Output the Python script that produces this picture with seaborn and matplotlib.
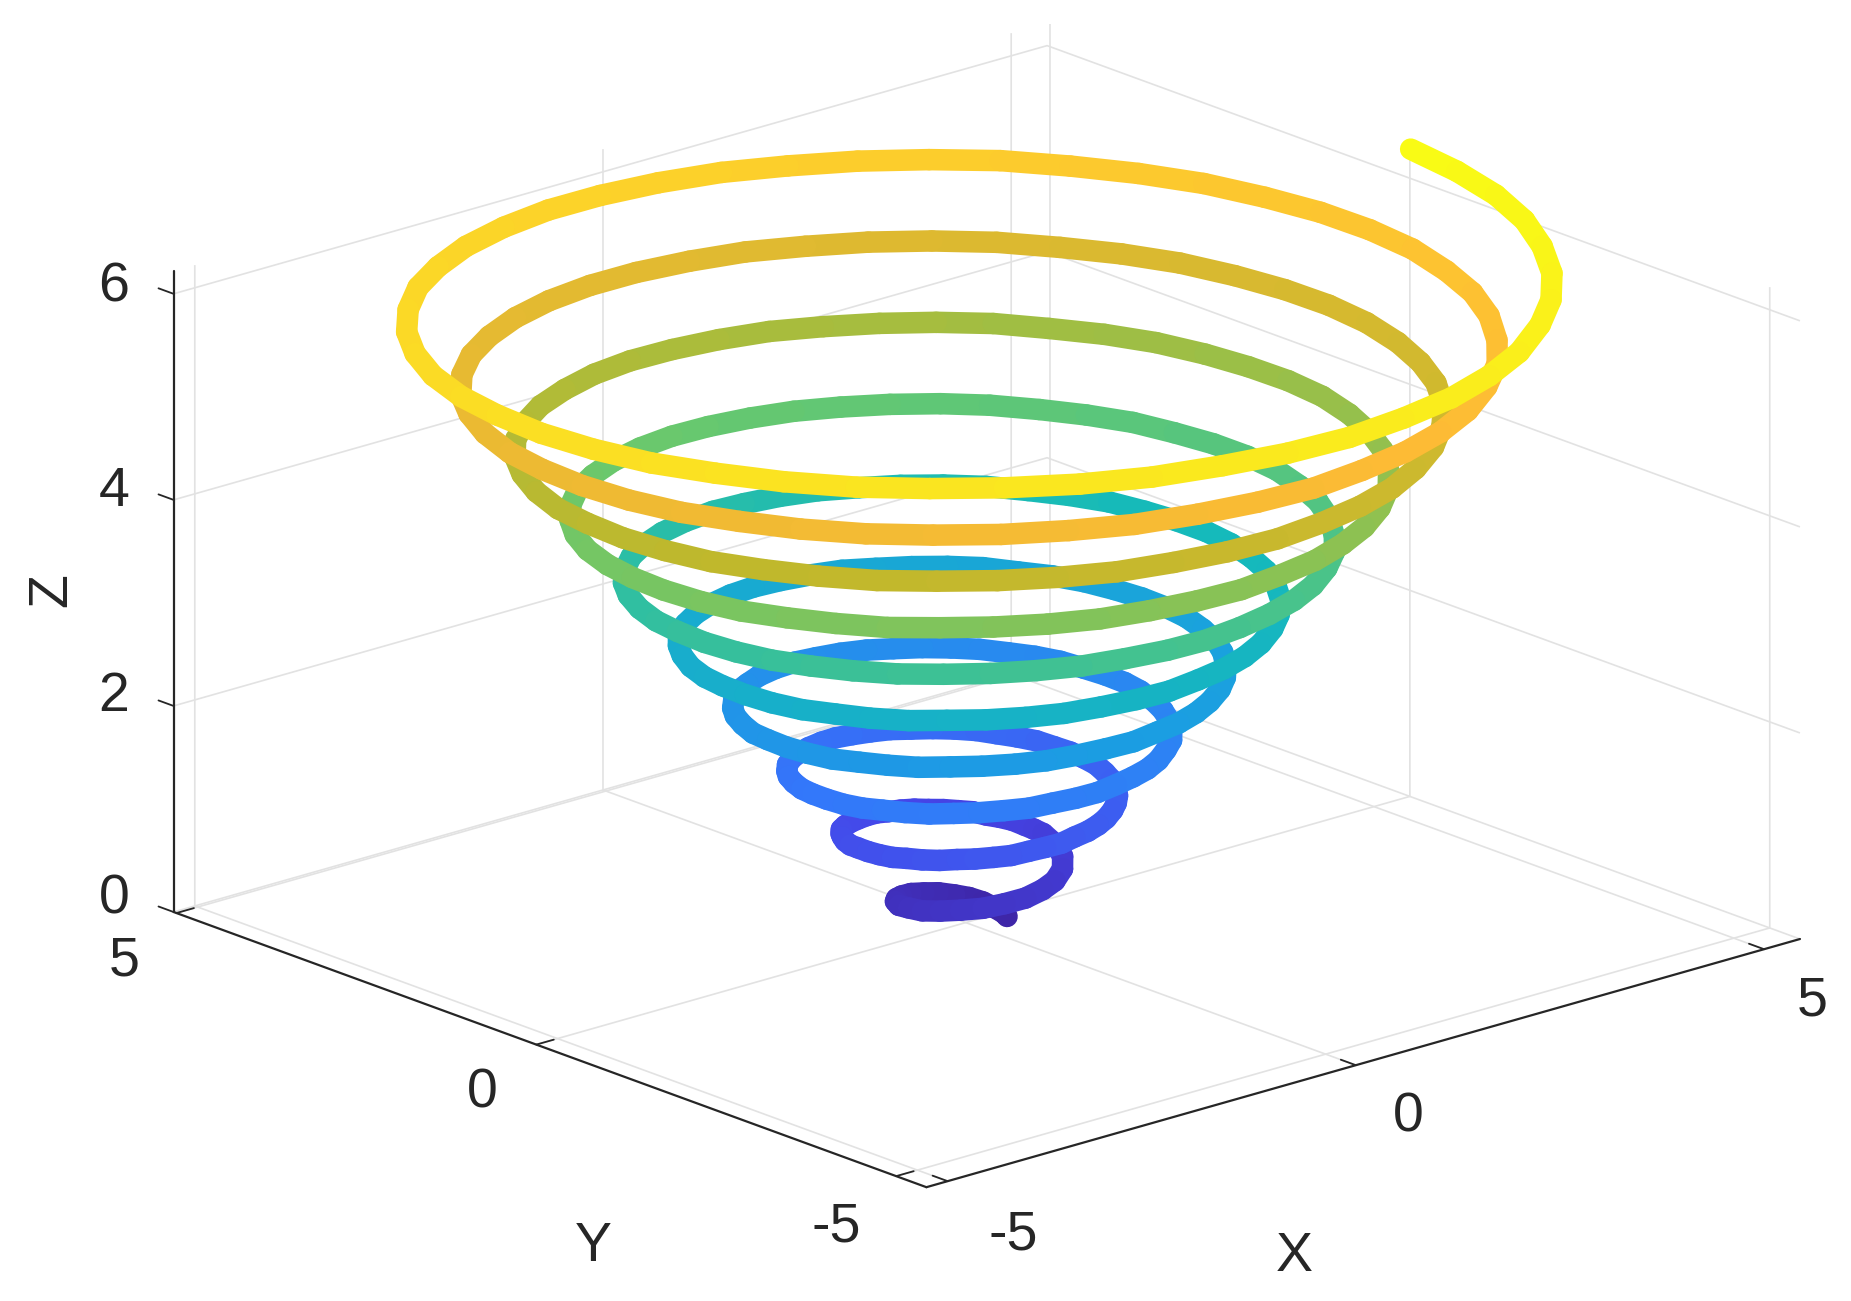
import matplotlib
matplotlib.use("Agg")
import matplotlib.pyplot as plt
import seaborn as sns
from mpl_toolkits.mplot3d.art3d import Line3DCollection

# helix, bottom to top, denser on the wider turns
x_vals = [
    0.40, 0.42, 0.44,
    0.45, 0.46, 0.43, 0.36, 0.27, 0.14, 0.00, -0.16, -0.31, -0.45, -0.57, -0.66,
    -0.70, -0.70, -0.64, -0.54, -0.39, -0.21, 0.00, 0.22, 0.43, 0.63, 0.79, 0.90,
    0.95, 0.95, 0.94, 0.91, 0.86, 0.79, 0.72, 0.62, 0.52, 0.40, 0.27, 0.14, 0.00, -0.14, -0.28, -0.42,
    -0.56, -0.69, -0.81, -0.91, -1.00, -1.08, -1.14, -1.18, -1.20, -1.20, -1.18, -1.14, -1.08, -0.99,
    -0.89, -0.78, -0.64, -0.50, -0.34, -0.17, 0.00, 0.17, 0.35, 0.52, 0.68, 0.84, 0.98, 1.11, 1.22, 1.31, 1.38, 1.43,
    1.45, 1.45, 1.42, 1.37, 1.29, 1.19, 1.07, 0.93, 0.77, 0.59, 0.40, 0.20, 0.00, -0.21, -0.41, -0.62,
    -0.81, -0.99, -1.16, -1.31, -1.44, -1.54, -1.62, -1.68, -1.70, -1.70, -1.66, -1.60, -1.51, -1.39,
    -1.25, -1.08, -0.89, -0.69, -0.47, -0.24, 0.00, 0.24, 0.48, 0.71, 0.93, 1.14, 1.34, 1.51, 1.65, 1.77, 1.86, 1.92,
    1.95, 1.94, 1.90, 1.83, 1.73, 1.59, 1.42, 1.23, 1.02, 0.78, 0.53, 0.27, 0.00, -0.27, -0.54, -0.81,
    -1.06, -1.30, -1.51, -1.70, -1.87, -2.00, -2.11, -2.17, -2.20, -2.19, -2.15, -2.06, -1.94, -1.79,
    -1.60, -1.39, -1.14, -0.88, -0.60, -0.30, 0.00, 0.31, 0.61, 0.90, 1.18, 1.45, 1.69, 1.90, 2.09, 2.24, 2.35, 2.42,
    2.45, 2.44, 2.39, 2.29, 2.16, 1.98, 1.78, 1.54, 1.27, 0.97, 0.66, 0.34, 0.00, -0.34, -0.67, -1.00,
    -1.31, -1.60, -1.87, -2.10, -2.30, -2.47, -2.59, -2.67, -2.70, -2.69, -2.63, -2.52, -2.38, -2.18,
    -1.95, -1.69, -1.39, -1.07, -0.73, -0.37, 0.00, 0.37, 0.74, 1.09, 1.43, 1.75, 2.04, 2.30, 2.52, 2.70, 2.83, 2.91,
    2.95, 2.93, 2.87, 2.76, 2.59, 2.38, 2.13, 1.84, 1.52, 1.17, 0.79, 0.40, 0.00, -0.40, -0.80, -1.19,
    -1.56, -1.91, -2.22, -2.50, -2.74, -2.93, -3.07, -3.16, -3.20, -3.18, -3.11, -2.99, -2.81, -2.58,
    -2.31, -1.99, -1.64, -1.26, -0.86, -0.43, 0.00, 0.44, 0.87, 1.29, 1.68, 2.06, 2.40, 2.69, 2.95, 3.16, 3.31, 3.41,
    3.45, 3.43, 3.35, 3.22, 3.02, 2.78, 2.48, 2.15, 1.77, 1.36, 0.92, 0.47, 0.00, -0.47, -0.93, -1.38,
    -1.81, -2.21, -2.57, -2.89, -3.17, -3.39, -3.55, -3.66, -3.70, -3.68, -3.60, -3.45, -3.24, -2.98,
    -2.66, -2.30, -1.89, -1.45, -0.99, -0.50, 0.00, 0.50, 1.00, 1.48, 1.93, 2.36, 2.75, 3.09, 3.39, 3.62, 3.80, 3.91,
    3.95, 3.92, 3.84, 3.68, 3.46, 3.17, 2.84, 2.45, 2.02, 1.55, 1.05, 0.53, 0.00, -0.54, -1.06, -1.57,
    -2.06, -2.51, -2.93, -3.29, -3.60, -3.85, -4.04, -4.15, -4.20, -4.17, -4.08, -3.91, -3.67, -3.37,
    -3.01, -2.60, -2.14, -1.65, -1.12, -0.57, 0.00, 0.57, 1.13, 1.67, 2.18, 2.67, 3.10, 3.49, 3.82, 4.08, 4.28, 4.40,
    4.45, 4.42, 4.32, 4.14, 3.89, 3.57, 3.19, 2.75, 2.27, 1.74, 1.18, 0.60, 0.00, -0.60, -1.19, -1.76,
    -2.31, -2.82, -3.28, -3.69, -4.03, -4.31, -4.52, -4.65, -4.70, -4.67, -4.56, -4.37, -4.11, -3.77,
    -3.37, -2.91, -2.39, -1.84, -1.25, -0.63, 0.00, 0.63, 1.26, 1.86, 2.43, 2.97, 3.46, 3.88, 4.25, 4.55, 4.76, 4.90,
    4.95, 4.92, 4.80, 4.60, 4.32, 3.97, 3.55, 3.06, 2.52, 1.93, 1.31, 0.66, 0.00, -0.67, -1.32, -1.96,
    -2.56, -3.12, -3.63, -4.08, -4.47, -4.78, -5.00, -5.14, -5.20, -5.16, -5.04, -4.83, -4.54, -4.16,
    -3.72, -3.21, -2.64, -2.03, -1.37, -0.70, 0.00, 0.70, 1.39, 2.05, 2.68, 3.28, 3.81, 4.28, 4.68, 5.01, 5.25, 5.39,
    5.45,
]
y_vals = [
    -0.12, -0.08, -0.04,
    0.00, 0.12, 0.25, 0.36, 0.46, 0.54, 0.58, 0.58, 0.54, 0.45, 0.33, 0.18,
    0.00, -0.19, -0.37, -0.54, -0.68, -0.78, -0.83, -0.82, -0.75, -0.63, -0.45, -0.24,
    0.00, 0.13, 0.25, 0.38, 0.50, 0.61, 0.72, 0.81, 0.90, 0.97, 1.02, 1.06, 1.08, 1.08, 1.06, 1.02,
    0.97, 0.89, 0.81, 0.70, 0.58, 0.45, 0.31, 0.16, 0.00, -0.16, -0.32, -0.47, -0.62, -0.76,
    -0.89, -1.01, -1.11, -1.20, -1.26, -1.30, -1.33, -1.32, -1.30, -1.25, -1.18, -1.09, -0.98, -0.85, -0.70, -0.54, -0.37, -0.19,
    0.00, 0.19, 0.38, 0.57, 0.75, 0.92, 1.07, 1.21, 1.33, 1.43, 1.50, 1.55, 1.58, 1.57, 1.54, 1.48,
    1.40, 1.29, 1.16, 1.00, 0.83, 0.64, 0.44, 0.22, 0.00, -0.23, -0.45, -0.66, -0.87, -1.07,
    -1.25, -1.41, -1.54, -1.66, -1.74, -1.80, -1.83, -1.82, -1.78, -1.72, -1.62, -1.49, -1.34, -1.15, -0.95, -0.73, -0.50, -0.25,
    0.00, 0.26, 0.51, 0.76, 1.00, 1.22, 1.42, 1.60, 1.76, 1.89, 1.98, 2.05, 2.08, 2.07, 2.03, 1.95,
    1.83, 1.69, 1.51, 1.31, 1.08, 0.83, 0.56, 0.29, 0.00, -0.29, -0.58, -0.86, -1.12, -1.37,
    -1.60, -1.80, -1.98, -2.12, -2.23, -2.29, -2.33, -2.31, -2.27, -2.18, -2.05, -1.89, -1.69, -1.46, -1.20, -0.93, -0.63, -0.32,
    0.00, 0.32, 0.64, 0.95, 1.25, 1.52, 1.78, 2.00, 2.19, 2.35, 2.47, 2.54, 2.58, 2.56, 2.51, 2.41,
    2.27, 2.08, 1.87, 1.61, 1.33, 1.02, 0.69, 0.35, 0.00, -0.36, -0.71, -1.05, -1.37, -1.68,
    -1.95, -2.20, -2.41, -2.58, -2.71, -2.79, -2.83, -2.81, -2.75, -2.64, -2.48, -2.28, -2.04, -1.77, -1.45, -1.12, -0.76, -0.39,
    0.00, 0.39, 0.77, 1.14, 1.50, 1.83, 2.13, 2.40, 2.63, 2.81, 2.95, 3.04, 3.08, 3.06, 2.99, 2.87,
    2.70, 2.48, 2.22, 1.92, 1.58, 1.21, 0.82, 0.42, 0.00, -0.42, -0.83, -1.24, -1.62, -1.98,
    -2.31, -2.60, -2.84, -3.04, -3.19, -3.29, -3.33, -3.31, -3.23, -3.10, -2.92, -2.68, -2.40, -2.07, -1.70, -1.31, -0.89, -0.45,
    0.00, 0.45, 0.90, 1.33, 1.75, 2.13, 2.48, 2.79, 3.06, 3.28, 3.43, 3.53, 3.58, 3.55, 3.47, 3.33,
    3.13, 2.88, 2.57, 2.22, 1.83, 1.41, 0.95, 0.48, 0.00, -0.49, -0.96, -1.43, -1.87, -2.29,
    -2.66, -2.99, -3.28, -3.51, -3.68, -3.78, -3.83, -3.80, -3.72, -3.56, -3.35, -3.08, -2.75, -2.37, -1.95, -1.50, -1.02, -0.52,
    0.00, 0.52, 1.03, 1.53, 2.00, 2.44, 2.84, 3.19, 3.49, 3.74, 3.92, 4.03, 4.08, 4.05, 3.96, 3.79,
    3.57, 3.27, 2.93, 2.53, 2.08, 1.60, 1.08, 0.55, 0.00, -0.55, -1.09, -1.62, -2.12, -2.59,
    -3.01, -3.39, -3.71, -3.97, -4.16, -4.28, -4.33, -4.30, -4.20, -4.03, -3.78, -3.47, -3.10, -2.68, -2.20, -1.69, -1.15, -0.58,
    0.00, 0.58, 1.16, 1.72, 2.25, 2.74, 3.19, 3.59, 3.93, 4.20, 4.40, 4.52, 4.58, 4.54, 4.44, 4.26,
    4.00, 3.67, 3.28, 2.83, 2.33, 1.79, 1.21, 0.61, 0.00, -0.62, -1.22, -1.81, -2.37, -2.89,
    -3.37, -3.79, -4.14, -4.43, -4.64, -4.77, -4.83, -4.79, -4.68, -4.49, -4.22, -3.87, -3.46, -2.98, -2.45, -1.88, -1.28, -0.65,
    0.00, 0.65, 1.29, 1.91, 2.50, 3.05, 3.55, 3.98, 4.36, 4.66, 4.88, 5.02, 5.08, 5.04, 4.92, 4.72,
    4.43, 4.07, 3.63, 3.14, 2.58, 1.98, 1.34, 0.68, 0.00, -0.68, -1.35, -2.00, -2.62, -3.20,
    -3.72, -4.18, -4.58, -4.89, -5.12, -5.27, -5.33, -5.29, -5.17, -4.95, -4.65, -4.26, -3.81, -3.29, -2.70, -2.08, -1.41, -0.71,
    0.00,
]
z_vals = [
    0.00, 0.00, 0.00,
    0.00, 0.01, 0.04, 0.07, 0.09, 0.12, 0.14, 0.17, 0.19, 0.22, 0.25, 0.27,
    0.30, 0.32, 0.35, 0.38, 0.40, 0.43, 0.45, 0.48, 0.50, 0.54, 0.58, 0.61,
    0.65, 0.66, 0.67, 0.69, 0.70, 0.71, 0.73, 0.74, 0.75, 0.76, 0.78, 0.79, 0.80, 0.82, 0.83, 0.84,
    0.85, 0.87, 0.88, 0.89, 0.91, 0.92, 0.93, 0.95, 0.96, 0.97, 0.98, 1.00, 1.01, 1.02,
    1.04, 1.05, 1.06, 1.07, 1.09, 1.10, 1.11, 1.13, 1.14, 1.15, 1.16, 1.18, 1.19, 1.20, 1.22, 1.23, 1.24, 1.26,
    1.27, 1.28, 1.29, 1.31, 1.32, 1.33, 1.35, 1.36, 1.37, 1.38, 1.40, 1.41, 1.42, 1.44, 1.45, 1.46,
    1.47, 1.49, 1.50, 1.51, 1.53, 1.54, 1.55, 1.57, 1.58, 1.59, 1.60, 1.62, 1.63, 1.64,
    1.66, 1.67, 1.68, 1.69, 1.71, 1.72, 1.73, 1.75, 1.76, 1.77, 1.78, 1.80, 1.81, 1.82, 1.84, 1.85, 1.86, 1.88,
    1.89, 1.90, 1.91, 1.93, 1.94, 1.95, 1.97, 1.98, 1.99, 2.00, 2.02, 2.03, 2.04, 2.06, 2.07, 2.08,
    2.09, 2.11, 2.12, 2.13, 2.15, 2.16, 2.17, 2.19, 2.20, 2.21, 2.22, 2.24, 2.25, 2.26,
    2.28, 2.29, 2.30, 2.31, 2.33, 2.34, 2.35, 2.37, 2.38, 2.39, 2.40, 2.42, 2.43, 2.44, 2.46, 2.47, 2.48, 2.50,
    2.51, 2.52, 2.53, 2.55, 2.56, 2.57, 2.59, 2.60, 2.61, 2.62, 2.64, 2.65, 2.66, 2.68, 2.69, 2.70,
    2.71, 2.73, 2.74, 2.75, 2.77, 2.78, 2.79, 2.81, 2.82, 2.83, 2.84, 2.86, 2.87, 2.88,
    2.90, 2.91, 2.92, 2.93, 2.95, 2.96, 2.97, 2.99, 3.00, 3.01, 3.02, 3.04, 3.05, 3.06, 3.08, 3.09, 3.10, 3.12,
    3.13, 3.14, 3.15, 3.17, 3.18, 3.19, 3.21, 3.22, 3.23, 3.24, 3.26, 3.27, 3.28, 3.30, 3.31, 3.32,
    3.33, 3.35, 3.36, 3.37, 3.39, 3.40, 3.41, 3.43, 3.44, 3.45, 3.46, 3.48, 3.49, 3.50,
    3.52, 3.53, 3.54, 3.55, 3.57, 3.58, 3.59, 3.61, 3.62, 3.63, 3.64, 3.66, 3.67, 3.68, 3.70, 3.71, 3.72, 3.74,
    3.75, 3.76, 3.77, 3.79, 3.80, 3.81, 3.83, 3.84, 3.85, 3.86, 3.88, 3.89, 3.90, 3.92, 3.93, 3.94,
    3.95, 3.97, 3.98, 3.99, 4.01, 4.02, 4.03, 4.05, 4.06, 4.07, 4.08, 4.10, 4.11, 4.12,
    4.14, 4.15, 4.16, 4.17, 4.19, 4.20, 4.21, 4.23, 4.24, 4.25, 4.26, 4.28, 4.29, 4.30, 4.32, 4.33, 4.34, 4.36,
    4.37, 4.38, 4.39, 4.41, 4.42, 4.43, 4.45, 4.46, 4.47, 4.48, 4.50, 4.51, 4.52, 4.54, 4.55, 4.56,
    4.57, 4.59, 4.60, 4.61, 4.63, 4.64, 4.65, 4.67, 4.68, 4.69, 4.70, 4.72, 4.73, 4.74,
    4.76, 4.77, 4.78, 4.79, 4.81, 4.82, 4.83, 4.85, 4.86, 4.87, 4.88, 4.90, 4.91, 4.92, 4.94, 4.95, 4.96, 4.98,
    4.99, 5.00, 5.01, 5.03, 5.04, 5.05, 5.07, 5.08, 5.09, 5.10, 5.12, 5.13, 5.14, 5.16, 5.17, 5.18,
    5.19, 5.21, 5.22, 5.23, 5.25, 5.26, 5.27, 5.29, 5.30, 5.31, 5.32, 5.34, 5.35, 5.36,
    5.38, 5.39, 5.40, 5.41, 5.43, 5.44, 5.45, 5.47, 5.48, 5.49, 5.50, 5.52, 5.53, 5.54, 5.56, 5.57, 5.58, 5.60,
    5.61, 5.62, 5.63, 5.65, 5.66, 5.67, 5.69, 5.70, 5.71, 5.72, 5.74, 5.75, 5.76, 5.78, 5.79, 5.80,
    5.81, 5.83, 5.84, 5.85, 5.87, 5.88, 5.89, 5.91, 5.92, 5.93, 5.94, 5.96, 5.97, 5.98,
    6.00, 6.01, 6.02, 6.03, 6.05, 6.06, 6.07, 6.09, 6.10, 6.11, 6.12, 6.15, 6.16, 6.18, 6.20, 6.22, 6.24, 6.26,
    6.28,
]

x_ticks = [-5, 0, 5]
y_ticks = [-5, 0, 5]
z_ticks = [0, 2, 4, 6]
x_lim = (-5.26, 5.44)
y_lim = (-5.42, 5.04)
z_lim = (0, 6.22)

parula = ["#3e26a8", "#4545e8", "#3378fa", "#1b9ee2", "#15baba",
          "#68c86e", "#bfb82c", "#fdbb35", "#f9fb15"]

W, H = 1851, 1301
TEXT = "#262626"
FONT_SIZE = 40


def put_text(px, py, label, rotation=0):
    """Place a label by its centre, in picture pixels."""
    fig.text(px / W, 1 - py / H, label, ha="center", va="center", color=TEXT,
             fontsize=FONT_SIZE, rotation=rotation)


sns.set_theme(style="white")
plt.rcParams["font.family"] = ["Liberation Sans", "DejaVu Sans"]
cmap = sns.blend_palette(parula, as_cmap=True)

fig = plt.figure(figsize=(W / 100, H / 100), dpi=100, facecolor="white")
ax = fig.add_axes([0.0236, 0.0214, 1, 1], projection="3d", proj_type="ortho")
ax.view_init(elev=18.8, azim=-131.4)

# one collection per piece so mplot3d sorts them front to back
for i in range(len(x_vals) - 1):
    piece = [[(x_vals[i], y_vals[i], z_vals[i]),
              (x_vals[i + 1], y_vals[i + 1], z_vals[i + 1])]]
    c = cmap((z_vals[i] + z_vals[i + 1]) / 2 / z_vals[-1])
    ax.add_collection3d(Line3DCollection(piece, colors=[c], linewidths=15.5,
                                         capstyle="round"))

ax.set_xlim(*x_lim)
ax.set_ylim(*y_lim)
ax.set_zlim(*z_lim)
ax.set_box_aspect((x_lim[1] - x_lim[0], y_lim[1] - y_lim[0], z_lim[1]), zoom=1.316)
ax.set_xticks(x_ticks)
ax.set_yticks(y_ticks)
ax.set_zticks(z_ticks)
ax.set_xticklabels([])
ax.set_yticklabels([])
ax.set_zticklabels([])

for axis in (ax.xaxis, ax.yaxis, ax.zaxis):
    axis.set_pane_color((1, 1, 1, 0))
    axis.pane.set_edgecolor((1, 1, 1, 0))
    axis.line.set_color(TEXT)
    axis.line.set_linewidth(1.6)
    axis._axinfo["grid"].update(color="#e2e2e2", linewidth=1.2)
    axis._axinfo["tick"].update(inward_factor=0, outward_factor=0.25,
                                linewidth={True: 1.3, False: 1.3}, color=TEXT)
ax.grid(True)
# z ticks point along y here, away from the plot
ax.zaxis._get_tickdir = lambda position: 1

for label, px, py in [("-5", 1013, 1236), ("0", 1408, 1117), ("5", 1812, 1001),
                      ("-5", 836, 1228), ("0", 482, 1094), ("5", 124, 962),
                      ("0", 114, 900), ("2", 114, 697), ("4", 114, 492), ("6", 114, 287),
                      ("X", 1294, 1257), ("Y", 593, 1247)]:
    put_text(px, py, label)
put_text(52, 590, "Z", rotation=90)

fig.savefig("out.png", dpi=100)
